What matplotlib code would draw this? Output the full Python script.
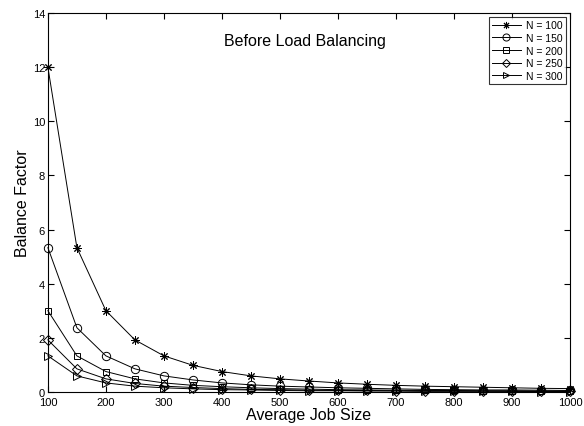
import matplotlib.pyplot as plt

# average job size
job_size = [100, 150, 200, 250, 300, 350, 400, 450, 500, 550, 600, 650, 700, 750, 800, 850, 900, 950, 1000]

# balance factor per N
bf_100 = [12.0, 5.33, 3.0, 1.92, 1.33, 0.98, 0.75, 0.59, 0.48, 0.40, 0.33, 0.28, 0.24, 0.21, 0.19, 0.17, 0.15, 0.13, 0.12]
bf_150 = [5.33, 2.37, 1.33, 0.85, 0.59, 0.44, 0.33, 0.26, 0.21, 0.18, 0.15, 0.13, 0.11, 0.09, 0.08, 0.07, 0.07, 0.06, 0.05]
bf_200 = [3.0, 1.33, 0.75, 0.48, 0.33, 0.24, 0.19, 0.15, 0.12, 0.10, 0.08, 0.07, 0.06, 0.05, 0.05, 0.04, 0.04, 0.03, 0.03]
bf_250 = [1.92, 0.85, 0.48, 0.31, 0.21, 0.16, 0.12, 0.09, 0.08, 0.06, 0.05, 0.05, 0.04, 0.03, 0.03, 0.03, 0.02, 0.02, 0.02]
bf_300 = [1.33, 0.59, 0.33, 0.21, 0.15, 0.11, 0.08, 0.07, 0.05, 0.04, 0.04, 0.03, 0.03, 0.02, 0.02, 0.02, 0.02, 0.01, 0.01]

labels = ['N = 100', 'N = 150', 'N = 200', 'N = 250', 'N = 300']
markers = [(8, 2, 0), 'o', 's', 'D', '>']
msizes = [6, 6, 5, 5, 5.5]

plt.rcParams['font.family'] = ['Liberation Sans', 'DejaVu Sans']

fig = plt.figure(figsize=(5.84, 4.27), dpi=100)
ax = fig.add_axes([0.082, 0.080, 0.894, 0.887])

series = [bf_100, bf_150, bf_200, bf_250, bf_300]
for y, lab, m, ms in zip(series, labels, markers, msizes):
    ax.plot(job_size, y, color='black', linewidth=0.7, marker=m, markersize=ms,
            markerfacecolor='none', markeredgecolor='black', markeredgewidth=0.7,
            label=lab, clip_on=False)

ax.set_xlim(100, 1000)
ax.set_ylim(0, 14)
ax.set_xticks(range(100, 1001, 100))
ax.set_yticks(range(0, 15, 2))
ax.tick_params(direction='in', top=True, right=True, labelsize=8, length=4, width=0.8, pad=2)
ax.tick_params(axis='x', pad=4)
for s in ax.spines.values():
    s.set_linewidth(0.8)

ax.set_xlabel('Average Job Size', fontsize=11.5, labelpad=0)
ax.set_ylabel('Balance Factor', fontsize=11.5, labelpad=2)
ax.text(543, 13, 'Before Load Balancing', fontsize=11.5, ha='center', va='center')

leg = ax.legend(loc='upper right', fontsize=7.5, frameon=True, fancybox=False,
                edgecolor='black', borderpad=0.3, labelspacing=0.25, handlelength=2.8,
                handletextpad=0.5, borderaxespad=0.4, markerscale=0.85)
leg.get_frame().set_linewidth(0.8)

fig.savefig('out.png', dpi=100)
